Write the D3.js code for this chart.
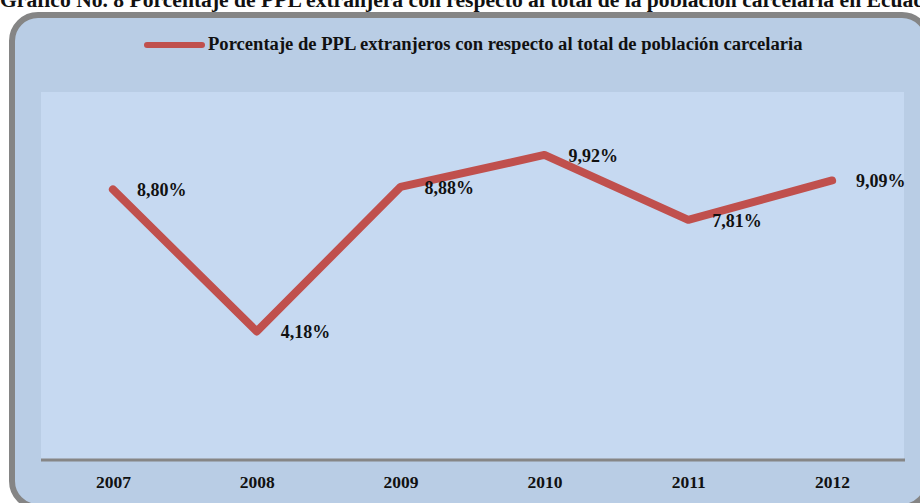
<!DOCTYPE html>
<html>
<head>
<meta charset="utf-8">
<script src="https://cdn.jsdelivr.net/npm/d3@7"></script>
<style>
html,body{margin:0;padding:0;background:#fff;overflow:hidden;}
svg{display:block;}
</style>
</head>
<body>
<div id="chart"></div>
<script>
const years = ["2007","2008","2009","2010","2011","2012"];
const values = [8.80, 4.18, 8.88, 9.92, 7.81, 9.09];
const valueLabels = ["8,80%","4,18%","8,88%","9,92%","7,81%","9,09%"];
const seriesName = "Porcentaje de PPL extranjeros con respecto al total de población carcelaria";
const titleText = "Gráfico No. 8 Porcentaje de PPL extranjera con respecto al total de la población carcelaria en Ecuador";

const W = 920, H = 503;
const svg = d3.select("#chart").append("svg").attr("width", W).attr("height", H);
const serif = "'Liberation Serif','Times New Roman',serif";

// title (partially cut off at top, as in the reference)
svg.append("text").attr("x", 0).attr("y", 7)
  .attr("font-family", serif).attr("font-weight", "bold").attr("font-size", 21.6)
  .attr("fill", "#111").text(titleText);

// frame
svg.append("rect").attr("x", 12).attr("y", 15).attr("width", 916).attr("height", 492)
  .attr("rx", 26).attr("ry", 26)
  .attr("fill", "#b9cde5").attr("stroke", "#858585").attr("stroke-width", 6);

// plot area
const plot = {left: 41, right: 904, top: 92, bottom: 460};
svg.append("rect").attr("x", plot.left).attr("y", plot.top)
  .attr("width", plot.right - plot.left).attr("height", plot.bottom - plot.top)
  .attr("fill", "#c6d9f1");

const x = d3.scalePoint().domain(years).range([plot.left, plot.right]).padding(0.5);
const y = d3.scaleLinear().domain([0, 12]).range([plot.bottom, plot.bottom - 12 * 30.75]);

// x axis
const xAxis = d3.axisBottom(x).tickSize(0).tickPadding(0);
const gx = svg.append("g").attr("transform", `translate(0,${plot.bottom})`).call(xAxis);
gx.select(".domain").attr("stroke", "#868686").attr("stroke-width", 3)
  .attr("d", `M${plot.left},0H${plot.right + 1}`);
gx.selectAll(".tick text").attr("font-family", serif).attr("font-weight", "bold")
  .attr("font-size", 17.5).attr("fill", "#111").attr("dy", null).attr("y", 28);

// line
const line = d3.line().x((d, i) => x(years[i])).y(d => y(d));
svg.append("path").datum(values).attr("d", line)
  .attr("fill", "none").attr("stroke", "#c0504d").attr("stroke-width", 8)
  .attr("stroke-linecap", "round").attr("stroke-linejoin", "round");

// data labels
svg.append("g").selectAll("text").data(values).join("text")
  .attr("x", (d, i) => x(years[i]) + 24)
  .attr("y", d => y(d) + 7)
  .attr("font-family", serif).attr("font-weight", "bold").attr("font-size", 18)
  .attr("fill", "#111").text((d, i) => valueLabels[i]);

// legend
svg.append("line").attr("x1", 147).attr("x2", 202).attr("y1", 45).attr("y2", 45)
  .attr("stroke", "#c0504d").attr("stroke-width", 6).attr("stroke-linecap", "round");
svg.append("text").attr("x", 208).attr("y", 50)
  .attr("font-family", serif).attr("font-weight", "bold").attr("font-size", 18.6)
  .attr("fill", "#111").text(seriesName);
</script>
</body>
</html>
